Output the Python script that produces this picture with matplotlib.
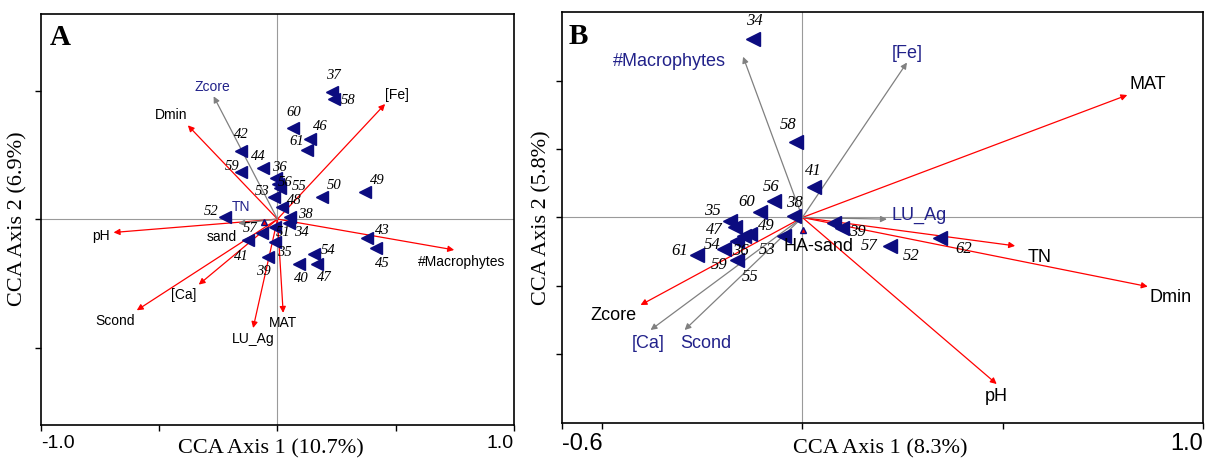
import matplotlib
matplotlib.use('Agg')
import matplotlib.pyplot as plt

plt.rcParams['font.family'] = ['Liberation Sans', 'DejaVu Sans']

# ---- Panel A: sample scores ----
a_ids = ['37', '58', '60', '46', '61', '42', '44', '59', '36', '56', '55', '53', '48', '50',
         '49', '52', '38', '34', '57', '51', '41', '35', '39', '54', '47', '40', '43', '45']
a_x = [0.229, 0.237, 0.064, 0.138, 0.124, -0.155, -0.062, -0.155, -0.006, 0.001, 0.011, -0.014, 0.021, 0.187,
       0.370, -0.222, 0.054, 0.047, -0.066, -0.010, -0.123, -0.010, -0.038, 0.155, 0.167, 0.092, 0.380, 0.417]
a_y = [0.496, 0.466, 0.354, 0.311, 0.270, 0.267, 0.198, 0.185, 0.159, 0.137, 0.120, 0.085, 0.046, 0.087,
       0.104, 0.007, 0.007, -0.017, -0.053, -0.030, -0.082, -0.089, -0.147, -0.137, -0.176, -0.173, -0.074, -0.111]

# Panel A: environmental variables (arrow tips)
a_env = ['pH', 'Dmin', '[Fe]', '#Macrophytes', 'MAT', 'LU_Ag', '[Ca]', 'Scond', 'Zcore', 'TN']
a_env_x = [-0.693, -0.379, 0.455, 0.747, 0.024, -0.103, -0.333, -0.595, -0.270, -0.165]
a_env_y = [-0.052, 0.365, 0.448, -0.120, -0.365, -0.424, -0.255, -0.355, 0.478, -0.017]
a_env_sig = [True, True, True, True, True, True, True, True, False, False]
a_nom = ['sand']
a_nom_x = [-0.055]
a_nom_y = [-0.010]

# ---- Panel B: sample scores ----
b_ids = ['34', '58', '41', '56', '60', '38', '35', '47', '49', '54', '36', '55', '61', '59',
         '53', '39', '57', '52', '62']
b_x = [-0.123, -0.017, 0.028, -0.071, -0.107, -0.020, -0.180, -0.169, -0.131, -0.196, -0.162, -0.146, -0.262,
       -0.163, -0.047, 0.099, 0.078, 0.218, 0.344]
b_y = [0.523, 0.220, 0.090, 0.049, 0.015, 0.005, -0.010, -0.029, -0.049, -0.092, -0.068, -0.054, -0.110,
       -0.125, -0.054, -0.032, -0.017, -0.083, -0.061]

b_env = ['MAT', 'TN', 'Dmin', 'pH', 'Zcore', '#Macrophytes', '[Fe]', 'LU_Ag', '[Ca]', 'Scond']
b_env_x = [0.811, 0.531, 0.862, 0.485, -0.404, -0.148, 0.261, 0.211, -0.379, -0.294]
b_env_y = [0.358, -0.083, -0.202, -0.487, -0.256, 0.470, 0.453, -0.005, -0.329, -0.329]
b_env_sig = [True, True, True, True, True, False, False, False, False, False]
b_nom = ['HA-sand']
b_nom_x = [0.001]
b_nom_y = [-0.036]

# label offsets in pixels (right, down) -- layout only
a_lab_off = {'37': (2, -16), '58': (15, 1), '60': (1, -16), '46': (10, -13), '61': (-10, -8),
             '42': (1, -16), '44': (-4, -12), '59': (-9, -5), '36': (3, -11), '56': (7, -1),
             '55': (19, -2), '53': (-12, -6), '48': (12, -7), '50': (12, -11), '49': (12, -12),
             '52': (-14, -6), '38': (15, -3), '34': (13, 9), '57': (-12, -4), '51': (8, 6),
             '41': (-7, 16), '35': (9, 11), '39': (-5, 15), '54': (14, -4), '47': (7, 13),
             '40': (2, 15), '43': (15, -8), '45': (6, 16)}
a_env_off = {'pH': (-13, 4), 'Dmin': (-17, -10), '[Fe]': (12, -9), '#Macrophytes': (7, 12),
             'MAT': (0, 10), 'LU_Ag': (0, 11), '[Ca]': (-15, 10), 'Scond': (-22, 11),
             'Zcore': (-1, -9), 'TN': (3, -16), 'sand': (-43, 15)}
b_lab_off = {'34': (1, -18), '58': (-7, -17), '41': (0, -16), '56': (-3, -14), '60': (-13, -10),
             '38': (0, -13), '35': (-18, -10), '47': (-20, 3), '49': (16, -8), '54': (-12, -4),
             '36': (3, 10), '55': (6, 41), '61': (-18, -4), '59': (-18, 5), '53': (-16, 14),
             '39': (15, 4), '57': (35, 23), '52': (21, 10), '62': (23, 11)}
b_env_off = {'MAT': (20, -11), 'TN': (24, 12), 'Dmin': (23, 11), 'pH': (0, 12), 'Zcore': (-27, 10),
             '#Macrophytes': (-74, 5), '[Fe]': (0, -9), 'LU_Ag': (32, -4), '[Ca]': (-2, 13),
             'Scond': (21, 13), 'HA-sand': (16, 17)}

navy = '#0c0c80'
blue_txt = '#22228a'


def draw_panel(ax, ids, xs, ys, lab_off, env, ex, ey, sig, nom, nx, ny, env_off,
               ms, num_fs, env_fs):
    ax.axhline(0, color='#9a9a9a', lw=0.8, zorder=1)
    ax.axvline(0, color='#9a9a9a', lw=0.8, zorder=1)
    for name, x, y, s in zip(env, ex, ey, sig):
        col = 'red' if s else '#808080'
        ax.annotate('', xy=(x, y), xytext=(0, 0),
                    arrowprops=dict(arrowstyle='-|>', color=col, lw=0.9, mutation_scale=9,
                                    shrinkA=0, shrinkB=0), zorder=2)
        dx, dy = env_off[name]
        ax.annotate(name, xy=(x, y), xytext=(dx, -dy), textcoords='offset pixels',
                    ha='center', va='center', fontsize=env_fs,
                    color='black' if s else blue_txt, zorder=4)
    for name, x, y in zip(nom, nx, ny):
        ax.plot(x, y, marker='^', ms=5, mfc='red', mec=navy, mew=1, zorder=3)
        dx, dy = env_off[name]
        ax.annotate(name, xy=(x, y), xytext=(dx, -dy), textcoords='offset pixels',
                    ha='center', va='center', fontsize=env_fs, color='black', zorder=4)
    ax.plot(xs, ys, ls='none', marker='<', ms=ms, color=navy, zorder=3)
    for i, x, y in zip(ids, xs, ys):
        dx, dy = lab_off[i]
        ax.annotate(i, xy=(x, y), xytext=(dx, -dy), textcoords='offset pixels',
                    ha='center', va='center', fontsize=num_fs, family='Liberation Serif',
                    style='italic', zorder=4)
    for sp in ax.spines.values():
        sp.set_linewidth(1.2)
    ax.tick_params(direction='out', length=4, width=1, labelsize=13, top=False, right=False)


fig = plt.figure(figsize=(12.12, 4.58), dpi=100)

# Panel A
axA = fig.add_axes([0.0338, 0.0729, 0.3903, 0.8974])
draw_panel(axA, a_ids, a_x, a_y, a_lab_off, a_env, a_env_x, a_env_y, a_env_sig,
           a_nom, a_nom_x, a_nom_y, a_env_off, 8.5, 10.5, 10)
axA.set_xlim(-1.0, 1.0)
axA.set_ylim(-0.8, 0.8)
axA.set_xticks([-1.0, -0.5, 0, 0.5, 1.0], ['-1.0', '', '', '', '1.0'])
axA.set_yticks([-0.5, 0, 0.5], ['', '', ''])
axA.get_xticklabels()[0].set_ha('left')
axA.get_xticklabels()[-1].set_ha('right')
axA.tick_params(axis='x', labelsize=14)
axA.set_xlabel('CCA Axis 1 (10.7%)', family='Liberation Serif', fontsize=16, va='center')
axA.xaxis.set_label_coords(0.486, -0.06)
axA.set_ylabel('CCA Axis 2 (6.9%)', family='Liberation Serif', fontsize=16, va='center')
axA.yaxis.set_label_coords(-0.049, 0.5)
axA.text(0.04, 0.943, 'A', transform=axA.transAxes, family='Liberation Serif',
         fontweight='bold', fontsize=21, ha='center', va='center')

# Panel B
axB = fig.add_axes([0.4637, 0.0771, 0.5289, 0.8961])
draw_panel(axB, b_ids, b_x, b_y, b_lab_off, b_env, b_env_x, b_env_y, b_env_sig,
           b_nom, b_nom_x, b_nom_y, b_env_off, 10, 12, 13)
axB.set_xlim(-0.6, 1.0)
axB.set_ylim(-0.6, 0.6)
axB.set_xticks([-0.6, -0.5, 0, 0.5, 1.0], ['-0.6', '', '', '', '1.0'])
axB.set_yticks([-0.4, -0.2, 0, 0.2, 0.4], ['', '', '', '', ''])
axB.get_xticklabels()[0].set_ha('left')
axB.get_xticklabels()[-1].set_ha('right')
axB.tick_params(axis='x', labelsize=17)
axB.set_xlabel('CCA Axis 1 (8.3%)', family='Liberation Serif', fontsize=16, va='center')
axB.xaxis.set_label_coords(0.496, -0.064)
axB.set_ylabel('CCA Axis 2 (5.8%)', family='Liberation Serif', fontsize=16, va='center')
axB.yaxis.set_label_coords(-0.031, 0.5)
axB.text(0.025, 0.94, 'B', transform=axB.transAxes, family='Liberation Serif',
         fontweight='bold', fontsize=21, ha='center', va='center')

fig.savefig('out.png', dpi=100)
